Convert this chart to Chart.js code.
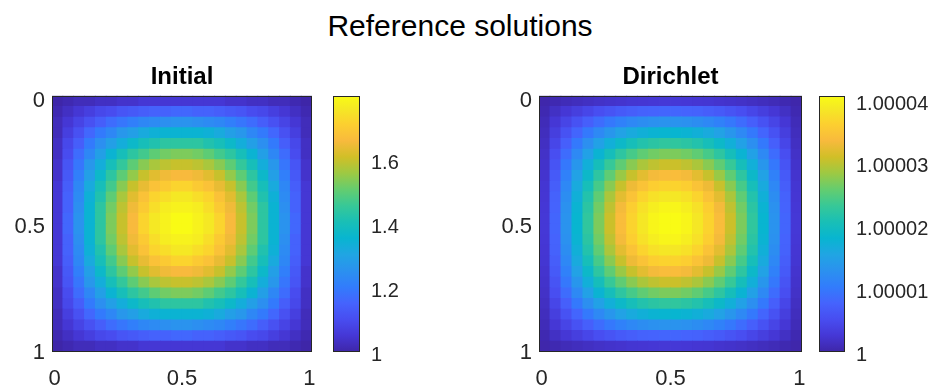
<!DOCTYPE html>
<html>
<head>
<meta charset="utf-8">
<script src="https://cdn.jsdelivr.net/npm/chart.js@4.4.1/dist/chart.umd.min.js"></script>
<style>
  body { margin: 0; background: #fff; }
  #fig { position: relative; width: 936px; height: 387px; overflow: hidden; font-family: "Liberation Sans", Arial, Helvetica, sans-serif; }
  .pane { position: absolute; top: 0; height: 387px; }
  #suptitle { position: absolute; left: 0; top: 11px; width: 920px; text-align: center; font-size: 30px; line-height: 30px; color: #000; }
</style>
</head>
<body>
<div id="fig">
  <div id="suptitle">Reference solutions</div>
  <div class="pane" style="left:0;width:332px"><canvas id="heatInitial"></canvas></div>
  <div class="pane" style="left:333px;width:130px"><canvas id="barInitial"></canvas></div>
  <div class="pane" style="left:487px;width:335px"><canvas id="heatDirichlet"></canvas></div>
  <div class="pane" style="left:819px;width:117px"><canvas id="barDirichlet"></canvas></div>
</div>
<script>
// image extent (pixel edges) and axis ticks, same for both panels
var gridExtent = [-0.01, 1.01];
var axisTicks = [0, 0.5, 1];

// "Initial" field, rows top (y=0) to bottom (y=1)
var initialGrid = [
  [1.00,1.01,1.02,1.02,1.03,1.03,1.04,1.04,1.05,1.05,1.05,1.05,1.05,1.05,1.05,1.05,1.04,1.04,1.03,1.03,1.02,1.02,1.01,1.00],
  [1.01,1.03,1.05,1.07,1.09,1.10,1.12,1.13,1.14,1.15,1.15,1.16,1.16,1.15,1.15,1.14,1.13,1.12,1.10,1.09,1.07,1.05,1.03,1.01],
  [1.02,1.05,1.08,1.11,1.14,1.17,1.19,1.21,1.23,1.24,1.25,1.26,1.26,1.25,1.24,1.23,1.21,1.19,1.17,1.14,1.11,1.08,1.05,1.02],
  [1.02,1.07,1.11,1.16,1.20,1.23,1.27,1.29,1.32,1.34,1.35,1.35,1.35,1.35,1.34,1.32,1.29,1.27,1.23,1.20,1.16,1.11,1.07,1.02],
  [1.03,1.09,1.14,1.20,1.25,1.29,1.33,1.37,1.40,1.42,1.44,1.44,1.44,1.44,1.42,1.40,1.37,1.33,1.29,1.25,1.20,1.14,1.09,1.03],
  [1.03,1.10,1.17,1.23,1.29,1.35,1.40,1.44,1.47,1.50,1.52,1.53,1.53,1.52,1.50,1.47,1.44,1.40,1.35,1.29,1.23,1.17,1.10,1.03],
  [1.04,1.12,1.19,1.27,1.33,1.40,1.45,1.50,1.54,1.57,1.59,1.60,1.60,1.59,1.57,1.54,1.50,1.45,1.40,1.33,1.27,1.19,1.12,1.04],
  [1.04,1.13,1.21,1.29,1.37,1.44,1.50,1.55,1.60,1.63,1.65,1.66,1.66,1.65,1.63,1.60,1.55,1.50,1.44,1.37,1.29,1.21,1.13,1.04],
  [1.05,1.14,1.23,1.32,1.40,1.47,1.54,1.60,1.64,1.68,1.70,1.72,1.72,1.70,1.68,1.64,1.60,1.54,1.47,1.40,1.32,1.23,1.14,1.05],
  [1.05,1.15,1.24,1.34,1.42,1.50,1.57,1.63,1.68,1.72,1.74,1.76,1.76,1.74,1.72,1.68,1.63,1.57,1.50,1.42,1.34,1.24,1.15,1.05],
  [1.05,1.15,1.25,1.35,1.44,1.52,1.59,1.65,1.70,1.74,1.77,1.78,1.78,1.77,1.74,1.70,1.65,1.59,1.52,1.44,1.35,1.25,1.15,1.05],
  [1.05,1.16,1.26,1.35,1.44,1.53,1.60,1.66,1.72,1.76,1.78,1.80,1.80,1.78,1.76,1.72,1.66,1.60,1.53,1.44,1.35,1.26,1.16,1.05],
  [1.05,1.16,1.26,1.35,1.44,1.53,1.60,1.66,1.72,1.76,1.78,1.80,1.80,1.78,1.76,1.72,1.66,1.60,1.53,1.44,1.35,1.26,1.16,1.05],
  [1.05,1.15,1.25,1.35,1.44,1.52,1.59,1.65,1.70,1.74,1.77,1.78,1.78,1.77,1.74,1.70,1.65,1.59,1.52,1.44,1.35,1.25,1.15,1.05],
  [1.05,1.15,1.24,1.34,1.42,1.50,1.57,1.63,1.68,1.72,1.74,1.76,1.76,1.74,1.72,1.68,1.63,1.57,1.50,1.42,1.34,1.24,1.15,1.05],
  [1.05,1.14,1.23,1.32,1.40,1.47,1.54,1.60,1.64,1.68,1.70,1.72,1.72,1.70,1.68,1.64,1.60,1.54,1.47,1.40,1.32,1.23,1.14,1.05],
  [1.04,1.13,1.21,1.29,1.37,1.44,1.50,1.55,1.60,1.63,1.65,1.66,1.66,1.65,1.63,1.60,1.55,1.50,1.44,1.37,1.29,1.21,1.13,1.04],
  [1.04,1.12,1.19,1.27,1.33,1.40,1.45,1.50,1.54,1.57,1.59,1.60,1.60,1.59,1.57,1.54,1.50,1.45,1.40,1.33,1.27,1.19,1.12,1.04],
  [1.03,1.10,1.17,1.23,1.29,1.35,1.40,1.44,1.47,1.50,1.52,1.53,1.53,1.52,1.50,1.47,1.44,1.40,1.35,1.29,1.23,1.17,1.10,1.03],
  [1.03,1.09,1.14,1.20,1.25,1.29,1.33,1.37,1.40,1.42,1.44,1.44,1.44,1.44,1.42,1.40,1.37,1.33,1.29,1.25,1.20,1.14,1.09,1.03],
  [1.02,1.07,1.11,1.16,1.20,1.23,1.27,1.29,1.32,1.34,1.35,1.35,1.35,1.35,1.34,1.32,1.29,1.27,1.23,1.20,1.16,1.11,1.07,1.02],
  [1.02,1.05,1.08,1.11,1.14,1.17,1.19,1.21,1.23,1.24,1.25,1.26,1.26,1.25,1.24,1.23,1.21,1.19,1.17,1.14,1.11,1.08,1.05,1.02],
  [1.01,1.03,1.05,1.07,1.09,1.10,1.12,1.13,1.14,1.15,1.15,1.16,1.16,1.15,1.15,1.14,1.13,1.12,1.10,1.09,1.07,1.05,1.03,1.01],
  [1.00,1.01,1.02,1.02,1.03,1.03,1.04,1.04,1.05,1.05,1.05,1.05,1.05,1.05,1.05,1.05,1.04,1.04,1.03,1.03,1.02,1.02,1.01,1.00]
];
var initialLimits = [1, 1.8];
var initialBarTicks = [1, 1.2, 1.4, 1.6];
var initialBarLabels = ['1', '1.2', '1.4', '1.6'];

// "Dirichlet" field, stored as (u - 1) * 1e6
var dirichletGrid = [
  [0.2,0.5,0.9,1.2,1.5,1.8,2.0,2.2,2.4,2.5,2.6,2.7,2.7,2.6,2.5,2.4,2.2,2.0,1.8,1.5,1.2,0.9,0.5,0.2],
  [0.5,1.6,2.6,3.5,4.4,5.3,6.0,6.7,7.2,7.6,7.8,8.0,8.0,7.8,7.6,7.2,6.7,6.0,5.3,4.4,3.5,2.6,1.6,0.5],
  [0.9,2.6,4.2,5.8,7.3,8.7,9.9,11.0,11.8,12.5,12.9,13.2,13.2,12.9,12.5,11.8,11.0,9.9,8.7,7.3,5.8,4.2,2.6,0.9],
  [1.2,3.5,5.8,8.0,10.1,12.0,13.6,15.1,16.3,17.2,17.8,18.1,18.1,17.8,17.2,16.3,15.1,13.6,12.0,10.1,8.0,5.8,3.5,1.2],
  [1.5,4.4,7.3,10.1,12.7,15.0,17.1,18.9,20.4,21.6,22.3,22.7,22.7,22.3,21.6,20.4,18.9,17.1,15.0,12.7,10.1,7.3,4.4,1.5],
  [1.8,5.3,8.7,12.0,15.0,17.8,20.3,22.5,24.2,25.6,26.5,27.0,27.0,26.5,25.6,24.2,22.5,20.3,17.8,15.0,12.0,8.7,5.3,1.8],
  [2.0,6.0,9.9,13.6,17.1,20.3,23.2,25.6,27.6,29.2,30.2,30.8,30.8,30.2,29.2,27.6,25.6,23.2,20.3,17.1,13.6,9.9,6.0,2.0],
  [2.2,6.7,11.0,15.1,18.9,22.5,25.6,28.3,30.6,32.3,33.4,34.0,34.0,33.4,32.3,30.6,28.3,25.6,22.5,18.9,15.1,11.0,6.7,2.2],
  [2.4,7.2,11.8,16.3,20.4,24.2,27.6,30.6,33.0,34.8,36.1,36.7,36.7,36.1,34.8,33.0,30.6,27.6,24.2,20.4,16.3,11.8,7.2,2.4],
  [2.5,7.6,12.5,17.2,21.6,25.6,29.2,32.3,34.8,36.8,38.1,38.7,38.7,38.1,36.8,34.8,32.3,29.2,25.6,21.6,17.2,12.5,7.6,2.5],
  [2.6,7.8,12.9,17.8,22.3,26.5,30.2,33.4,36.1,38.1,39.4,40.1,40.1,39.4,38.1,36.1,33.4,30.2,26.5,22.3,17.8,12.9,7.8,2.6],
  [2.7,8.0,13.2,18.1,22.7,27.0,30.8,34.0,36.7,38.7,40.1,40.8,40.8,40.1,38.7,36.7,34.0,30.8,27.0,22.7,18.1,13.2,8.0,2.7],
  [2.7,8.0,13.2,18.1,22.7,27.0,30.8,34.0,36.7,38.7,40.1,40.8,40.8,40.1,38.7,36.7,34.0,30.8,27.0,22.7,18.1,13.2,8.0,2.7],
  [2.6,7.8,12.9,17.8,22.3,26.5,30.2,33.4,36.1,38.1,39.4,40.1,40.1,39.4,38.1,36.1,33.4,30.2,26.5,22.3,17.8,12.9,7.8,2.6],
  [2.5,7.6,12.5,17.2,21.6,25.6,29.2,32.3,34.8,36.8,38.1,38.7,38.7,38.1,36.8,34.8,32.3,29.2,25.6,21.6,17.2,12.5,7.6,2.5],
  [2.4,7.2,11.8,16.3,20.4,24.2,27.6,30.6,33.0,34.8,36.1,36.7,36.7,36.1,34.8,33.0,30.6,27.6,24.2,20.4,16.3,11.8,7.2,2.4],
  [2.2,6.7,11.0,15.1,18.9,22.5,25.6,28.3,30.6,32.3,33.4,34.0,34.0,33.4,32.3,30.6,28.3,25.6,22.5,18.9,15.1,11.0,6.7,2.2],
  [2.0,6.0,9.9,13.6,17.1,20.3,23.2,25.6,27.6,29.2,30.2,30.8,30.8,30.2,29.2,27.6,25.6,23.2,20.3,17.1,13.6,9.9,6.0,2.0],
  [1.8,5.3,8.7,12.0,15.0,17.8,20.3,22.5,24.2,25.6,26.5,27.0,27.0,26.5,25.6,24.2,22.5,20.3,17.8,15.0,12.0,8.7,5.3,1.8],
  [1.5,4.4,7.3,10.1,12.7,15.0,17.1,18.9,20.4,21.6,22.3,22.7,22.7,22.3,21.6,20.4,18.9,17.1,15.0,12.7,10.1,7.3,4.4,1.5],
  [1.2,3.5,5.8,8.0,10.1,12.0,13.6,15.1,16.3,17.2,17.8,18.1,18.1,17.8,17.2,16.3,15.1,13.6,12.0,10.1,8.0,5.8,3.5,1.2],
  [0.9,2.6,4.2,5.8,7.3,8.7,9.9,11.0,11.8,12.5,12.9,13.2,13.2,12.9,12.5,11.8,11.0,9.9,8.7,7.3,5.8,4.2,2.6,0.9],
  [0.5,1.6,2.6,3.5,4.4,5.3,6.0,6.7,7.2,7.6,7.8,8.0,8.0,7.8,7.6,7.2,6.7,6.0,5.3,4.4,3.5,2.6,1.6,0.5],
  [0.2,0.5,0.9,1.2,1.5,1.8,2.0,2.2,2.4,2.5,2.6,2.7,2.7,2.6,2.5,2.4,2.2,2.0,1.8,1.5,1.2,0.9,0.5,0.2]
];
var dirichletLimits = [0, 40.8];
var dirichletBarTicks = [0, 10, 20, 30, 40];
var dirichletBarLabels = ['1', '1.00001', '1.00002', '1.00003', '1.00004'];

// parula colormap anchors: [index of 64, r, g, b]
var parula = [
  [0,62,38,168],[4,69,55,213],[8,72,77,240],[12,69,99,253],[16,50,124,252],
  [20,43,145,239],[24,32,165,227],[28,8,181,208],[32,25,191,182],[36,55,200,151],
  [40,100,205,111],[44,157,201,67],[48,209,191,39],[52,248,186,61],[56,252,207,48],
  [60,245,233,36],[63,249,251,21]
];

var fontFamily = '"Liberation Sans", Arial, Helvetica, sans-serif';
var inkColor = '#262626';
Chart.defaults.font.family = fontFamily;

function parulaColor(t) {
    t = Math.min(1, Math.max(0, t)) * 63;
    for (var k = 1; k < parula.length; k++) {
        if (t <= parula[k][0]) {
            var a = parula[k - 1], b = parula[k];
            var f = (t - a[0]) / (b[0] - a[0]);
            var c = [1, 2, 3].map(function(i) { return Math.round(a[i] + (b[i] - a[i]) * f); });
            return 'rgb(' + c.join(',') + ')';
        }
    }
    return 'rgb(249,251,21)';
}

const boxPlugin = {
    id: 'box',
    afterDraw(chart) {
        const {ctx, chartArea} = chart;
        ctx.save();
        ctx.strokeStyle = inkColor;
        ctx.lineWidth = 1;
        ctx.strokeRect(Math.round(chartArea.left) + 0.5, Math.round(chartArea.top) + 0.5,
            Math.round(chartArea.width) - 1, Math.round(chartArea.height) - 1);
        ctx.restore();
    }
};

function createHeatmap(id, grid, limits, title) {
    const n = grid.length;
    const step = (gridExtent[1] - gridExtent[0]) / n;
    const cells = [];
    grid.forEach((row, i) => row.forEach((v, j) => {
        cells.push({x: gridExtent[0] + (j + 0.5) * step, y: gridExtent[0] + (i + 0.5) * step, v: v});
    }));
    const cellRadius = function(context) {
        const area = context.chart.chartArea;
        if (!area) return 5;
        return (Math.max(area.width, area.height) / n + 0.8) / Math.SQRT2;
    };
    new Chart(document.getElementById(id), {
        type: 'scatter',
        data: {
            datasets: [{
                data: cells,
                pointStyle: 'rect',
                pointRadius: cellRadius,
                pointHoverRadius: cellRadius,
                pointBorderWidth: 0,
                pointBackgroundColor: c => c.raw ? parulaColor((c.raw.v - limits[0]) / (limits[1] - limits[0])) : '#000',
                clip: 0
            }]
        },
        plugins: [boxPlugin],
        options: {
            responsive: true,
            maintainAspectRatio: false,
            animation: false,
            events: [],
            layout: {padding: {right: 20}, autoPadding: false},
            plugins: {
                legend: {display: false},
                tooltip: {enabled: false},
                title: {
                    display: true,
                    text: title,
                    fullSize: false,
                    color: '#000',
                    font: {size: 24, weight: 'bold'},
                    padding: {top: 63, bottom: 4}
                }
            },
            scales: {
                x: {
                    type: 'linear',
                    min: gridExtent[0],
                    max: gridExtent[1],
                    grid: {display: false, drawTicks: false},
                    border: {display: false},
                    afterBuildTicks: s => { s.ticks = axisTicks.map(v => ({value: v})); },
                    afterFit: s => { s.height = 35; },
                    ticks: {font: {size: 22}, color: inkColor, padding: 14, maxRotation: 0, autoSkip: false, callback: v => String(v)}
                },
                y: {
                    type: 'linear',
                    reverse: true,
                    min: gridExtent[0],
                    max: gridExtent[1],
                    grid: {display: false, drawTicks: false},
                    border: {display: false},
                    afterBuildTicks: s => { s.ticks = axisTicks.map(v => ({value: v})); },
                    afterFit: s => { s.width = 52; },
                    ticks: {font: {size: 22}, color: inkColor, padding: 7, labelOffset: 3, autoSkip: false, callback: v => String(v)}
                }
            }
        }
    });
}

function createColorbar(id, limits, tickValues, tickLabels, axisWidth) {
    new Chart(document.getElementById(id), {
        type: 'bar',
        data: {
            labels: [''],
            datasets: [{
                data: [[limits[0], limits[1]]],
                barPercentage: 1,
                categoryPercentage: 1,
                borderWidth: 0,
                backgroundColor: function(context) {
                    const area = context.chart.chartArea;
                    if (!area) return null;
                    const g = context.chart.ctx.createLinearGradient(0, area.bottom, 0, area.top);
                    parula.forEach(p => g.addColorStop(p[0] / 63, 'rgb(' + p[1] + ',' + p[2] + ',' + p[3] + ')'));
                    return g;
                }
            }]
        },
        plugins: [boxPlugin],
        options: {
            responsive: true,
            maintainAspectRatio: false,
            animation: false,
            events: [],
            layout: {padding: {top: 96, bottom: 35}, autoPadding: false},
            plugins: {legend: {display: false}, tooltip: {enabled: false}},
            scales: {
                x: {display: false},
                y: {
                    position: 'right',
                    min: limits[0],
                    max: limits[1],
                    grid: {display: false, drawTicks: false},
                    border: {display: false},
                    afterBuildTicks: s => { s.ticks = tickValues.map(v => ({value: v})); },
                    afterFit: s => { s.width = axisWidth; },
                    ticks: {
                        font: {size: 20},
                        color: inkColor,
                        padding: 11,
                        labelOffset: 3,
                        autoSkip: false,
                        callback: (v, i) => tickLabels[i]
                    }
                }
            }
        }
    });
}

createHeatmap('heatInitial', initialGrid, initialLimits, 'Initial');
createColorbar('barInitial', initialLimits, initialBarTicks, initialBarLabels, 103);
createHeatmap('heatDirichlet', dirichletGrid, dirichletLimits, 'Dirichlet');
createColorbar('barDirichlet', dirichletLimits, dirichletBarTicks, dirichletBarLabels, 91);
</script>
</body>
</html>
